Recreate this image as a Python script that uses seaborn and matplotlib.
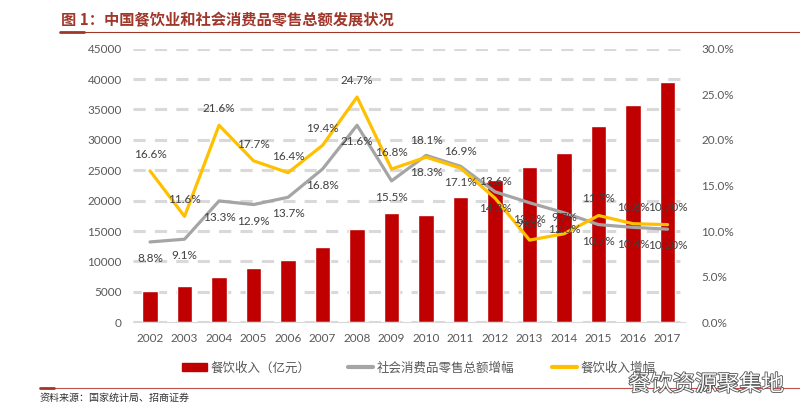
import matplotlib
matplotlib.use("Agg")
import matplotlib.pyplot as plt
import matplotlib.patheffects as pe
from matplotlib.lines import Line2D
from matplotlib.patches import Patch
import numpy as np
import seaborn as sns

years = ["2002", "2003", "2004", "2005", "2006", "2007", "2008", "2009",
         "2010", "2011", "2012", "2013", "2014", "2015", "2016", "2017"]
revenue = [5100, 5970, 7450, 8830, 10300, 12290, 15300, 17930,
           17600, 20600, 23470, 25540, 27800, 32240, 35740, 39520]
retail_growth = [8.8, 9.1, 13.3, 12.9, 13.7, 16.8, 21.6, 15.5,
                 18.3, 17.1, 14.3, 13.1, 12.0, 10.7, 10.4, 10.2]
retail_labels = ["8.8%", "9.1%", "13.3%", "12.9%", "13.7%", "16.8%", "21.6%", "15.5%",
                 "18.3%", "17.1%", "14.3%", "13.1%", "12.0%", "10.7%", "10.4%", "10.20%"]
food_growth = [16.6, 11.6, 21.6, 17.7, 16.4, 19.4, 24.7, 16.8,
               18.1, 16.9, 13.6, 9.0, 9.7, 11.7, 10.8, 10.7]
food_labels = ["16.6%", "11.6%", "21.6%", "17.7%", "16.4%", "19.4%", "24.7%", "16.8%",
               "18.1%", "16.9%", "13.6%", "9.0%", "9.7%", "11.7%", "10.8%", "10.70%"]

RED = "#C00000"
GRAY = "#A5A5A5"
YELLOW = "#FFC000"
TXT = "#595959"
CJK = ["Noto Sans CJK SC", "DejaVu Sans"]

sns.set_style("white")
plt.rcParams["font.family"] = ["Lato", "Noto Sans CJK SC", "DejaVu Sans"]

fig = plt.figure(figsize=(8, 4.2), dpi=100)
ax = fig.add_axes([0.166, 0.233, 0.690, 0.651])

sns.barplot(x=years, y=revenue, color=RED, saturation=1, width=0.44, ax=ax)
ax.set_ylim(0, 45000)
ax.set_yticks(np.arange(0, 45001, 5000))
ax.set_xlim(-0.5, len(years) - 0.5)
ax.set_axisbelow(True)
ax.yaxis.grid(True, color="#D9D9D9", linestyle=(0, (4, 3)), linewidth=2.2)
for s in ["top", "right", "left"]:
    ax.spines[s].set_visible(False)
ax.spines["bottom"].set_color("#D9D9D9")
ax.tick_params(length=0, colors=TXT, labelsize=8.5)
ax.tick_params(axis="y", pad=8)
ax.tick_params(axis="x", pad=8)
ax.set_xlabel("")
ax.set_ylabel("")

ax2 = ax.twinx()
x = np.arange(len(years))
sns.lineplot(x=x, y=retail_growth, color=GRAY, linewidth=2.3, ax=ax2)
sns.lineplot(x=x, y=food_growth, color=YELLOW, linewidth=2.3, ax=ax2)
ax2.set_ylim(0, 30)
ax2.set_yticks(np.arange(0, 30.1, 5))
ax2.set_yticklabels([f"{v:.1f}%" for v in np.arange(0, 30.1, 5)])
for s in ax2.spines.values():
    s.set_visible(False)
ax2.tick_params(length=0, colors=TXT, labelsize=8.5, pad=12)

for i in range(len(years)):
    ax2.annotate(food_labels[i], (x[i], food_growth[i]), xytext=(0, 12),
                 textcoords="offset points", ha="center", va="center",
                 fontsize=8.5, color="#404040")
    ax2.annotate(retail_labels[i], (x[i], retail_growth[i]), xytext=(0, -12),
                 textcoords="offset points", ha="center", va="center",
                 fontsize=8.5, color="#404040")

handles = [Patch(facecolor=RED, edgecolor=RED),
           Line2D([0], [0], color=GRAY, linewidth=3),
           Line2D([0], [0], color=YELLOW, linewidth=3)]
names = ["餐饮收入（亿元）", "社会消费品零售总额增幅", "餐饮收入增幅"]
fig.legend(handles, names, loc="center", bbox_to_anchor=(0.523, 0.124), ncol=3,
           frameon=False, prop={"family": CJK, "size": 9}, labelcolor=TXT,
           handlelength=2.0, handletextpad=0.3, columnspacing=3.0)

# title and rules
fig.text(0.076, 0.952, "图 1：中国餐饮业和社会消费品零售总额发展状况", family=CJK,
         fontsize=11, fontweight="bold", color="#A0372A", va="center")
fig.add_artist(Line2D([0.075, 1.0], [0.923, 0.923], color="#A0372A", linewidth=0.8))
fig.add_artist(Line2D([0.075, 0.105], [0.923, 0.923], color="#A0372A", linewidth=2))
fig.add_artist(Line2D([0.05, 1.0], [0.076, 0.076], color="#C0504D", linewidth=0.8))
fig.add_artist(Line2D([0.05, 0.068], [0.076, 0.076], color="#A0372A", linewidth=2))
fig.text(0.05, 0.052, "资料来源：国家统计局、招商证券", family=CJK, fontsize=7.2,
         color="#333333", va="center")
fig.text(0.98, 0.085, "餐饮资源聚集地", family=CJK, fontsize=16, color="white",
         ha="right", va="center",
         path_effects=[pe.withStroke(linewidth=1.2, foreground="#555555")])

fig.savefig("out.png", dpi=100, facecolor="white")
